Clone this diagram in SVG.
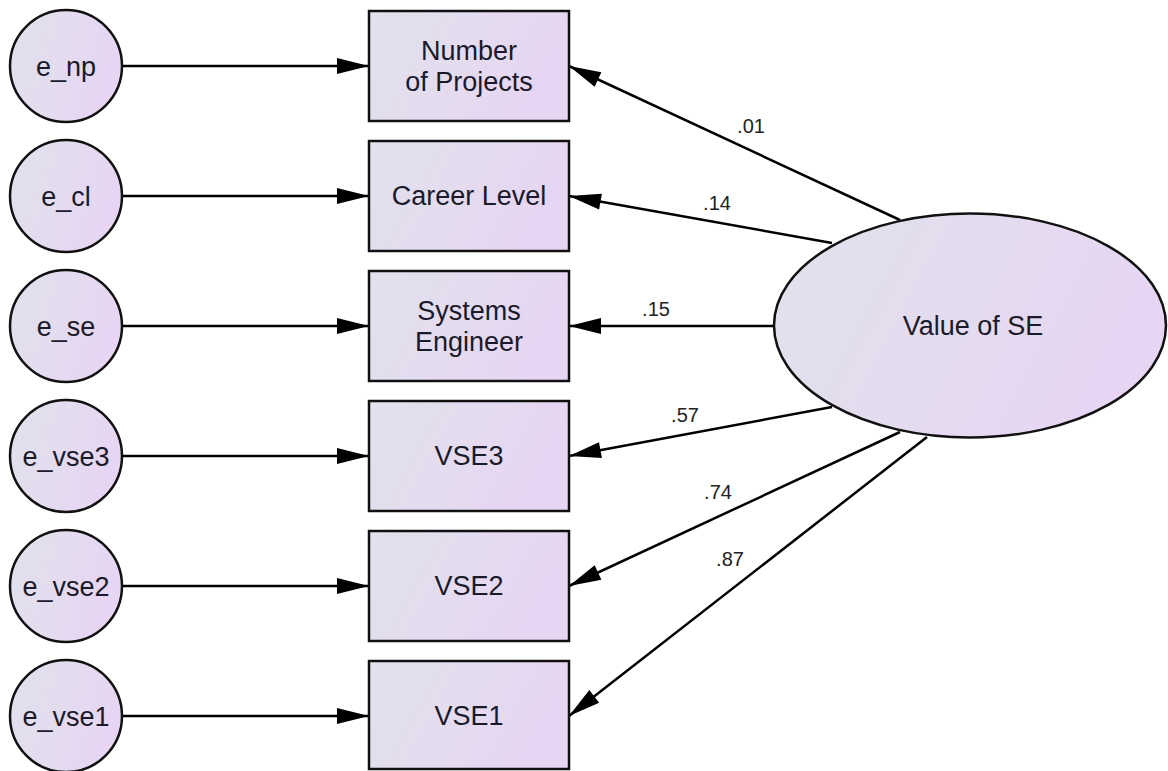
<svg xmlns="http://www.w3.org/2000/svg" width="1168" height="771" viewBox="0 0 1168 771">
<defs>
<linearGradient id="fill" x1="0" y1="0" x2="1" y2="0.3">
<stop offset="0" stop-color="#e0e2ec"/>
<stop offset="0.5" stop-color="#e4dcef"/>
<stop offset="1" stop-color="#e7d5f3"/>
</linearGradient>
<marker id="arr" markerUnits="userSpaceOnUse" markerWidth="34" markerHeight="18" refX="32" refY="8" orient="auto" overflow="visible">
<path d="M0,0 L32,8 L0,16 z" fill="#000"/>
</marker>
<style>
.shape{fill:url(#fill);stroke:#111;stroke-width:2.5}
.t{font-family:"Liberation Sans",Arial,sans-serif;font-size:27px;fill:#1a1a2a;text-anchor:middle}
.lbl{font-family:"Liberation Sans",Arial,sans-serif;font-size:20px;fill:#222;text-anchor:middle}
.c line{stroke:#000;stroke-width:2.5;marker-end:url(#arr)}
</style>
</defs>
<rect width="1168" height="771" fill="#fff"/>
<g class="c" id="connectors">
<line x1="122" y1="66" x2="369" y2="66"/>
<line x1="122" y1="196" x2="369" y2="196"/>
<line x1="122" y1="326" x2="369" y2="326"/>
<line x1="122" y1="456" x2="369" y2="456"/>
<line x1="122" y1="586" x2="369" y2="586"/>
<line x1="122" y1="716" x2="369" y2="716"/>
<line x1="900" y1="220" x2="569" y2="66"/>
<line x1="832" y1="243" x2="569" y2="196"/>
<line x1="773" y1="326" x2="569" y2="326"/>
<line x1="832" y1="407" x2="569" y2="456"/>
<line x1="900" y1="432" x2="569" y2="586"/>
<line x1="927" y1="437" x2="569" y2="716"/>
</g>
<g id="labels">
<text class="lbl" x="751" y="133">.01</text>
<text class="lbl" x="717" y="210">.14</text>
<text class="lbl" x="656" y="316">.15</text>
<text class="lbl" x="685" y="422">.57</text>
<text class="lbl" x="718" y="499">.74</text>
<text class="lbl" x="730" y="566">.87</text>
</g>
<g id="e_np"><circle class="shape" cx="66" cy="66" r="56"/><text class="t" x="66" y="76">e_np</text></g>
<g id="e_cl"><circle class="shape" cx="66" cy="196" r="56"/><text class="t" x="66" y="206">e_cl</text></g>
<g id="e_se"><circle class="shape" cx="66" cy="326" r="56"/><text class="t" x="66" y="336">e_se</text></g>
<g id="e_vse3"><circle class="shape" cx="66" cy="456" r="56"/><text class="t" x="66" y="466">e_vse3</text></g>
<g id="e_vse2"><circle class="shape" cx="66" cy="586" r="56"/><text class="t" x="66" y="596">e_vse2</text></g>
<g id="e_vse1"><circle class="shape" cx="66" cy="716" r="56"/><text class="t" x="66" y="726">e_vse1</text></g>
<g id="number_of_projects"><rect class="shape" x="369" y="11" width="200" height="110"/><text class="t" x="469" y="60">Number</text><text class="t" x="469" y="91">of Projects</text></g>
<g id="career_level"><rect class="shape" x="369" y="141" width="200" height="110"/><text class="t" x="469" y="205">Career Level</text></g>
<g id="systems_engineer"><rect class="shape" x="369" y="271" width="200" height="110"/><text class="t" x="469" y="320">Systems</text><text class="t" x="469" y="351">Engineer</text></g>
<g id="vse3"><rect class="shape" x="369" y="401" width="200" height="110"/><text class="t" x="469" y="465">VSE3</text></g>
<g id="vse2"><rect class="shape" x="369" y="531" width="200" height="110"/><text class="t" x="469" y="595">VSE2</text></g>
<g id="vse1"><rect class="shape" x="369" y="661" width="200" height="108"/><text class="t" x="469" y="725">VSE1</text></g>
<g id="value_of_se"><ellipse class="shape" cx="970" cy="325.5" rx="196" ry="112"/><text class="t" x="973" y="335">Value of SE</text></g>
</svg>
